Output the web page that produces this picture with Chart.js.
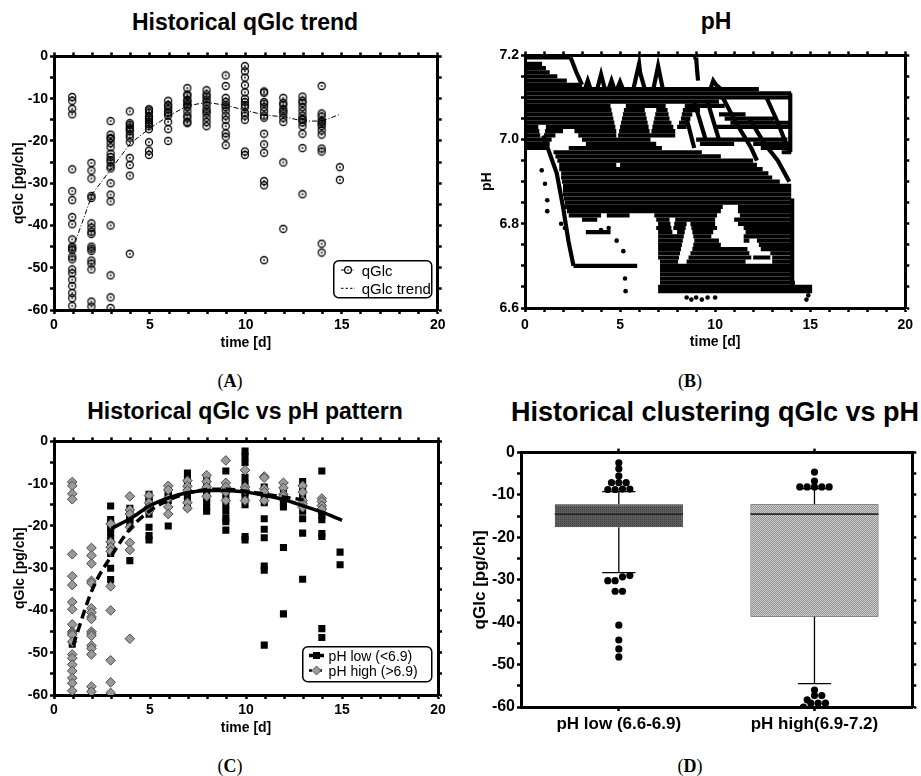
<!DOCTYPE html>
<html>
<head>
<meta charset="utf-8">
<title>qGlc vs pH</title>
<script src="https://cdn.jsdelivr.net/npm/chart.js@4.4.0/dist/chart.umd.min.js"></script>
<style>
  body { margin: 0; background: #fff; }
  #fig { position: relative; width: 921px; height: 776px; background: #fff; overflow: hidden;
         font-family: "Liberation Sans", Arial, sans-serif; color: #000; }
  #fig canvas { position: absolute; }
  .title { position: absolute; font-weight: bold; font-size: 23px; line-height: 1; white-space: nowrap;
           transform: translate(-50%, -50%); }
  .tag { position: absolute; font-family: "Liberation Serif", "Times New Roman", serif; font-size: 18px;
         line-height: 1; transform: translate(-50%, -50%); }
  .tag b { font-weight: bold; }
  svg.legend { position: absolute; overflow: visible; }
</style>
</head>
<body>
<div id="fig">
  <div class="title" style="left:245px;top:22px;">Historical qGlc trend</div>
  <div class="title" style="left:716px;top:21px;">pH</div>
  <div class="title" style="left:245px;top:411px;">Historical qGlc vs pH pattern</div>
  <div class="title" style="left:715px;top:412px;font-size:27px;">Historical clustering qGlc vs pH</div>

  <canvas id="chartA" width="450" height="312" style="left:0;top:46px;"></canvas>
  <canvas id="chartB" width="461" height="313" style="left:460px;top:45px;"></canvas>
  <canvas id="chartC" width="450" height="312" style="left:0;top:431px;"></canvas>
  <canvas id="chartD" width="461" height="306" style="left:460px;top:441px;"></canvas>

  <svg class="legend" width="100" height="39" style="left:333px;top:260px;" font-family="Liberation Sans, Arial, sans-serif" font-size="15">
    <rect x="0.75" y="0.75" width="98" height="37" rx="5" fill="#fff" stroke="#000" stroke-width="1.5"/>
    <line x1="8" y1="10" x2="22" y2="10" stroke="#000" stroke-width="1" stroke-dasharray="3,1.5,1,1.5"/>
    <circle cx="15" cy="10" r="3.4" fill="#fff" stroke="#000" stroke-width="1.3"/>
    <circle cx="15" cy="10" r="0.8" fill="#000"/>
    <text x="28.7" y="10" dominant-baseline="central">qGlc</text>
    <line x1="8" y1="28.3" x2="22" y2="28.3" stroke="#000" stroke-width="1" stroke-dasharray="2.5,2"/>
    <text x="28.7" y="28.3" dominant-baseline="central">qGlc trend</text>
  </svg>

  <svg class="legend" width="131" height="37" style="left:302px;top:646px;" font-family="Liberation Sans, Arial, sans-serif" font-size="14">
    <rect x="0.75" y="0.75" width="129" height="35" rx="5" fill="#fff" stroke="#000" stroke-width="1.5"/>
    <line x1="7" y1="9.5" x2="22" y2="9.5" stroke="#000" stroke-width="3.5"/>
    <rect x="11" y="6" width="7" height="7" fill="#000"/>
    <text x="26.6" y="9.5" dominant-baseline="central">pH low (&lt;6.9)</text>
    <line x1="7" y1="24.5" x2="22" y2="24.5" stroke="#000" stroke-width="2.5" stroke-dasharray="3,2"/>
    <polygon points="14.5,20 19,24.5 14.5,29 10,24.5" fill="#9a9a9a" stroke="#555" stroke-width="1"/>
    <text x="26.6" y="24.5" dominant-baseline="central">pH high (&gt;6.9)</text>
  </svg>

  <div class="tag" style="left:230px;top:381px;">(<b>A</b>)</div>
  <div class="tag" style="left:690px;top:381px;">(<b>B</b>)</div>
  <div class="tag" style="left:230px;top:766px;">(<b>C</b>)</div>
  <div class="tag" style="left:690px;top:766px;">(<b>D</b>)</div>
</div>

<script>
// ── Data ─────────────────────────────────────────────────────────────────────

// sampling day of each qGlc group (d)
const sampleDays = [0.95, 1.95, 2.95, 3.95, 4.95, 5.95, 6.95, 7.95, 8.95, 9.95, 10.95, 11.95, 12.95, 13.95, 14.9];

// qGlc [pg/ch] per sampling day, split by culture pH
const qLowPh = [
    [-48],
    [],
    [-15.3, -18.5, -19.3, -20.5, -21.5, -23, -24.5, -26.5, -30, -32.7],
    [-15.8, -16.8, -17.6, -18.5, -19.2, -28.2],
    [-12.5, -13.3, -14.2, -15, -16, -17.2, -20.3, -22.3, -23.3],
    [-11.8, -12.5, -13.2, -14, -20],
    [-7.5, -9, -10.3, -11.2, -12, -13, -14, -15.5],
    [-9, -10.2, -11.5, -12.5, -13.5, -14.5, -15.5, -16.5],
    [-7, -11.5, -12.8, -15, -16.5, -18.2, -19, -21],
    [-2.3, -3.5, -5, -8.5, -10, -12, -13.3, -15, -22.5, -23.3],
    [-10.8, -13, -14.5, -18.3, -20.8, -22.8, -29.5, -30.5, -48.2],
    [-11.5, -13.5, -14.5, -15.5, -25.1, -40.8],
    [-9.5, -11, -13, -15, -16.5, -18.3, -21.7, -32.6],
    [-7, -15.5, -16.5, -17.5, -18.5, -21.8, -22.5, -44.3, -46.4],
    [-26.2, -29.2]
];
const qHighPh = [
    [-9.6, -10.5, -12.4, -13.7, -26.7, -31.9, -34, -38, -39.7, -43.3, -45, -45.4, -45.8, -47.4, -50.4, -51.3, -52.8, -54.3, -56, -57.2, -59],
    [-25.2, -27, -28.9, -33, -33.5, -39.5, -40.5, -41.5, -42, -45, -45.5, -46, -48.3, -49, -50.4, -58, -59.2],
    [-19.5, -23.8, -25, -26, -34.3, -40, -51.8, -57, -59.5],
    [-13, -16.2, -17.2, -20.3, -24, -25.7, -46.7],
    [-12.8, -14.5, -15.5, -16.5],
    [-10.5, -11.5, -13.5, -15.5, -17.2],
    [-9.3, -10.6, -11.6, -14.5, -15.8],
    [-8, -9.5, -10.8, -13],
    [-4.5, -9.8, -10.8, -12, -14],
    [-6.8, -10.8, -11.5, -14],
    [-8.3, -8.6, -11.2, -12, -14],
    [-9.8, -11, -12.5, -13],
    [-10.5, -12, -14, -14.8, -15.6],
    [-13.5, -14.2, -15.2, -16],
    []
];

// overall trend
const trendDays = [1.1, 2, 3, 4, 5, 6, 7, 8, 9, 10, 11, 12, 13, 14, 14.9];
const trendQ    = [-44, -32.5, -26.5, -20.5, -17, -14, -11.6, -10.9, -11.6, -12.8, -13.9, -14.3, -15.3, -15.3, -13.7];

// trends per pH class
const lowTrendDays  = [3, 4, 5, 6, 7, 8, 9, 10, 11, 12, 13, 14, 15];
const lowTrendQ     = [-20.6, -18.2, -15.2, -13.3, -12.1, -11.6, -11.6, -12, -12.8, -13.8, -15.3, -16.8, -18.7];
const highTrendDays = [1, 2, 3, 4, 5, 6, 7, 8, 9, 10, 11, 12, 13];
const highTrendQ    = [-48.2, -35, -27, -20.5, -16.4, -13.8, -12.2, -11.4, -11.3, -11.8, -12.5, -13.2, -13.8];

// pH log: level held over [start, end] day spans
const phRows = [
    [7.195, [[0, 2.4], [8.85, 9.0]]],
    [7.18, [[0, 0.9]]],
    [7.17, [[0, 1.1]]],
    [7.16, [[0, 1.3]]],
    [7.15, [[0, 1.7]]],
    [7.14, [[0, 2.2]]],
    [7.13, [[0, 3.0]]],
    [7.12, [[0, 12.3]]],
    [7.11, [[0, 14]]],
    [7.10, [[0, 14]]],
    [7.09, [[0, 10.2]]],
    [7.08, [[0, 4.5], [5.3, 7.4], [8.4, 10.5]]],
    [7.07, [[0, 4.55], [5.2, 6.3], [6.9, 7.5], [8.3, 9.2]]],
    [7.06, [[0, 4.6], [5.15, 6.35], [6.85, 7.55], [8.25, 8.8], [10.2, 11.6]]],
    [7.05, [[0, 4.65], [5.1, 6.4], [6.8, 7.6], [8.2, 8.7], [10.5, 13.1]]],
    [7.04, [[0, 4.7], [5.05, 6.45], [6.75, 7.7], [8.1, 8.6], [10.8, 14]]],
    [7.03, [[0, 0.7], [1.1, 4.75], [5.0, 6.5], [6.7, 7.8], [8.0, 8.5], [10.0, 14]]],
    [7.02, [[0, 0.75], [1.05, 2.0], [2.6, 4.8], [4.95, 6.55], [6.65, 7.9]]],
    [7.01, [[0, 0.8], [1.0, 1.6], [2.8, 4.8], [4.9, 7.9]]],
    [7.00, [[0, 1.4], [3.0, 6.6], [9.0, 13.8]]],
    [6.99, [[0, 1.3], [3.2, 6.9], [9.2, 11.0], [12.0, 14]]],
    [6.98, [[0, 1.25], [2.3, 7.2], [12.4, 14]]],
    [6.97, [[0, 0.1], [1.5, 9.3], [13.5, 14]]],
    [6.96, [[0, 0.1], [1.6, 10.3]]],
    [6.95, [[0, 0.1], [1.7, 12.0]]],
    [6.94, [[1.8, 4.8], [5.0, 12.2]]],
    [6.93, [[1.8, 12.5]]],
    [6.92, [[1.9, 12.8]]],
    [6.91, [[1.9, 13.0]]],
    [6.90, [[1.95, 13.4]]],
    [6.89, [[2.0, 14]]],
    [6.88, [[2.0, 14]]],
    [6.87, [[2.0, 14]]],
    [6.86, [[2.05, 14]]],
    [6.85, [[2.1, 14]]],
    [6.84, [[2.1, 10.4], [11.2, 14]]],
    [6.83, [[2.2, 10.3], [11.2, 14]]],
    [6.82, [[2.3, 4.0], [4.3, 5.5], [6.8, 10.1], [11.3, 14]]],
    [6.81, [[3.0, 3.8], [6.9, 7.6], [7.9, 10.0], [11.0, 14]]],
    [6.80, [[7.0, 7.65], [7.85, 8.5], [8.7, 10.0], [11.2, 14]]],
    [6.79, [[6.9, 7.7], [7.8, 8.45], [8.75, 10.1], [11.5, 14]]],
    [6.78, [[3.2, 4.5], [7.0, 7.75], [8.0, 8.4], [8.8, 9.9], [11.6, 14]]],
    [6.77, [[7.0, 8.35], [8.85, 9.8], [11.5, 14]]],
    [6.76, [[7.0, 8.3], [8.9, 10.2], [11.5, 11.8], [12.2, 14]]],
    [6.75, [[7.0, 8.25], [8.85, 10.3], [12.3, 14]]],
    [6.74, [[7.0, 8.2], [8.8, 11.7], [12.4, 14]]],
    [6.73, [[7.0, 8.15], [8.7, 11.8], [12.9, 14]]],
    [6.72, [[7.0, 8.1], [8.6, 11.9], [12.0, 12.9], [13.0, 14]]],
    [6.71, [[7.1, 8.05], [8.5, 11.6], [13.0, 14]]],
    [6.70, [[2.55, 5.9], [7.1, 14]]],
    [6.69, [[7.1, 14]]],
    [6.68, [[7.1, 14]]],
    [6.67, [[7.1, 14]]],
    [6.66, [[7.1, 14.2]]],
    [6.65, [[7.0, 15.1]]],
    [6.64, [[7.0, 15.1]]]
];

// pH ramps between levels [day, pH]
const phRamps = [
    [[0.96, 7.01], [1.67, 6.92], [2.0, 6.84], [2.28, 6.76], [2.55, 6.70]],
    [[2.4, 7.195], [2.7, 7.16], [3.0, 7.13]],
    [[3.15, 7.12], [3.3, 7.14], [3.45, 7.12]],
    [[3.8, 7.12], [4.0, 7.155], [4.2, 7.12]],
    [[4.4, 7.12], [4.55, 7.14], [4.7, 7.12]],
    [[4.85, 7.12], [5.0, 7.137], [5.15, 7.12]],
    [[5.7, 7.12], [6.0, 7.18], [6.05, 7.16], [6.3, 7.12]],
    [[6.75, 7.12], [7.0, 7.175], [7.25, 7.12]],
    [[9.0, 7.195], [9.05, 7.165], [9.1, 7.14]],
    [[9.75, 7.12], [9.9, 7.14], [10.05, 7.13], [10.3, 7.12]],
    [[8.5, 7.05], [8.9, 6.98]],
    [[8.9, 7.09], [9.5, 7.0]],
    [[9.6, 7.09], [10.2, 7.0]],
    [[10.4, 7.1], [11.1, 7.04], [11.9, 6.98], [12.2, 6.95]],
    [[11.8, 7.05], [12.6, 6.99], [13.3, 6.95], [13.9, 6.90]],
    [[12.7, 7.1], [13.3, 7.04], [13.9, 6.97]],
    [[13.95, 7.11], [13.95, 6.97]],
    [[14.05, 6.86], [14.05, 6.65]]
];

// isolated pH readings [day, pH]
const phDots = [
    [0.88, 6.927], [1.05, 6.895], [1.17, 6.856], [1.17, 6.83], [1.9, 6.80], [2.1, 6.79],
    [4.0, 6.785], [4.4, 6.79], [4.82, 6.76], [5.17, 6.735], [5.26, 6.67], [5.29, 6.64],
    [8.5, 6.625], [8.75, 6.62], [9.0, 6.625], [9.3, 6.62], [9.6, 6.625], [10.0, 6.625],
    [14.8, 6.62], [14.9, 6.63]
];

// box plot by pH class
const groupNames  = ['pH low (6.6-6.9)', 'pH high(6.9-7.2)'];
const boxMin      = [-28.3, -54.5];
const boxQ1       = [-17.6, -38.7];
const boxMedian   = [-14.5, -14.5];
const boxQ3       = [-12.2, -12.2];
const boxMax      = [-9.2, -8.5];
const outliersLow  = [-2.4, -3.8, -5.5, -7.1, -7.1, -7.1, -8.6, -8.7, -8.7, -8.6,
                      -29, -30.2, -30.2, -29.3, -32.7, -32.7, -40.7, -44.2, -46.3, -48.2];
const outliersHigh = [-4.6, -6.7, -8.1, -8.1, -8.1, -8.1, -8.1,
                      -56, -57.3, -57.3, -58.3, -59.1, -59.1, -59.1, -60];

// ── Helpers ──────────────────────────────────────────────────────────────────

const FONT = '"Liberation Sans", Arial, sans-serif';
const BOX_W = 0.655;      // box width in category units
const CAP_HALF = 0.085;   // whisker cap half width
const DOT_GAP = 0.0375;   // horizontal spacing of tied outliers

const fmtX5  = v => (v % 5 === 0 ? String(v) : '');
const fmtY10 = v => (v % 10 === 0 ? String(v) : '');
const fmtPh  = v => { const k = Math.round(v * 100); return k % 20 === 0 ? (k / 100).toFixed(1) : ''; };

function axis(pos, min, max, step, o = {}) {
    const horiz = pos === 'top' || pos === 'bottom';
    const ticks = {
        display: !!o.fmt, stepSize: step, autoSkip: false, maxRotation: 0, minRotation: 0,
        padding: o.pad ?? 3, color: '#000',
        font: { family: FONT, size: o.fontSize || 14, weight: 'bold' }
    };
    if (o.fmt) ticks.callback = o.fmt;
    const cfg = {
        type: 'linear', position: pos, min, max, offset: false,
        afterFit: s => { if (horiz) s.height = o.size; else s.width = o.size; },
        border: { display: true, width: 3, color: '#000' },
        grid: { drawOnChartArea: false, drawTicks: true, tickLength: 4, tickWidth: 2.5, tickColor: '#000', offset: false },
        ticks,
        title: {
            display: !!o.title, text: o.title || '', color: '#000',
            font: { family: FONT, size: o.titleSize || 14, weight: 'bold', lineHeight: 1 },
            padding: o.titlePad || 0
        }
    };
    if (o.fixedTicks) cfg.afterBuildTicks = s => { s.ticks = o.fixedTicks.map(v => ({ value: v })); };
    return cfg;
}

function makeChart(id, type, datasets, scales) {
    return new Chart(document.getElementById(id), {
        type,
        data: { datasets },
        options: {
            responsive: false, animation: false, events: [],
            layout: { padding: 0 },
            plugins: { legend: { display: false }, tooltip: { enabled: false } },
            scales
        }
    });
}

const xy = (xs, ys) => xs.map((x, i) => ({ x, y: ys[i] }));

function byDay(groups) {
    const pts = [];
    groups.forEach((vals, i) => vals.forEach(v => pts.push({ x: sampleDays[i], y: v })));
    return pts;
}

// open circle with a centre dot
function ringMarker() {
    const c = document.createElement('canvas');
    c.width = c.height = 10;
    const g = c.getContext('2d');
    g.strokeStyle = '#000';
    g.lineWidth = 1.3;
    g.beginPath(); g.arc(5, 5, 3.5, 0, Math.PI * 2); g.stroke();
    g.fillStyle = '#000';
    g.beginPath(); g.arc(5, 5, 0.9, 0, Math.PI * 2); g.fill();
    return c;
}

function dotFill(base, dot, checker) {
    const c = document.createElement('canvas');
    c.width = c.height = 2;
    const g = c.getContext('2d');
    g.fillStyle = base; g.fillRect(0, 0, 2, 2);
    g.fillStyle = dot; g.fillRect(0, 0, 1, 1);
    if (checker) g.fillRect(1, 1, 1, 1);
    return g.createPattern(c, 'repeat');
}

// spread tied outliers side by side around the category centre
function swarm(center, values) {
    const s = [...values].sort((a, b) => a - b);
    const pts = [];
    let i = 0;
    while (i < s.length) {
        let j = i;
        while (j + 1 < s.length && s[j + 1] - s[i] <= 1.3) j++;
        const n = j - i + 1;
        for (let k = 0; k < n; k++) pts.push({ x: center + (k - (n - 1) / 2) * DOT_GAP, y: s[i + k] });
        i = j + 1;
    }
    return pts;
}

const gap = x => ({ x, y: null });

// ── A. Historical qGlc trend ─────────────────────────────────────────────────

const allQ = sampleDays.map((_, i) => qLowPh[i].concat(qHighPh[i]));

makeChart('chartA', 'scatter', [
    {
        type: 'line', data: xy(trendDays, trendQ),
        borderColor: '#000', borderWidth: 1, borderDash: [5, 2, 1, 2],
        pointRadius: 0, xAxisID: 'x', yAxisID: 'y'
    },
    {
        data: byDay(allQ), pointStyle: ringMarker(), pointRadius: 5,
        xAxisID: 'x', yAxisID: 'y'
    }
], {
    x:  axis('bottom', 0, 20, 1, { size: 48, fmt: fmtX5, pad: 3, title: 'time [d]', titlePad: { top: 0, bottom: 8 } }),
    x2: axis('top', 0, 20, 1, { size: 10 }),
    y:  axis('left', -60, 0, 5, { size: 54, fmt: fmtY10, pad: 2, title: 'qGlc [pg/ch]', titlePad: { top: 12.5, bottom: 0 } }),
    y2: axis('right', -60, 0, 5, { size: 12.3 })
});

// ── B. pH ────────────────────────────────────────────────────────────────────

// one line per held level span and per ramp
const phTraces = [];
phRows.forEach(([ph, spans]) => spans.forEach(([t0, t1]) => {
    phTraces.push([{ x: t0, y: ph }, { x: t1, y: ph }]);
}));
phRamps.forEach(path => phTraces.push(path.map(([t, ph]) => ({ x: t, y: ph }))));

makeChart('chartB', 'scatter', phTraces.map(pts => ({
    type: 'line', data: pts,
    borderColor: '#000', borderWidth: 4.2, pointRadius: 0,
    xAxisID: 'x', yAxisID: 'y'
})).concat([{
    data: phDots.map(([x, y]) => ({ x, y })),
    pointRadius: 2.3, backgroundColor: '#000', borderWidth: 0,
    xAxisID: 'x', yAxisID: 'y'
}]), {
    x:  axis('bottom', 0, 20, 1, { size: 50, fmt: fmtX5, pad: 5, title: 'time [d]', titlePad: { top: 0, bottom: 8.7 } }),
    x2: axis('top', 0, 20, 1, { size: 10 }),
    y:  axis('left', 6.6, 7.2, 0.05, { size: 65, fmt: fmtPh, pad: 2, title: 'pH', titlePad: { top: 20.5, bottom: 0 } }),
    y2: axis('right', 6.6, 7.2, 0.05, { size: 15.7 })
});

// ── C. qGlc vs pH pattern ────────────────────────────────────────────────────

makeChart('chartC', 'scatter', [
    {
        type: 'line', data: xy(lowTrendDays, lowTrendQ),
        borderColor: '#000', borderWidth: 3.5, pointRadius: 0,
        cubicInterpolationMode: 'monotone', xAxisID: 'x', yAxisID: 'y'
    },
    {
        type: 'line', data: xy(highTrendDays, highTrendQ),
        borderColor: '#000', borderWidth: 3.5, borderDash: [9, 5], pointRadius: 0,
        cubicInterpolationMode: 'monotone', xAxisID: 'x', yAxisID: 'y'
    },
    {
        data: byDay(qHighPh), pointStyle: 'rectRot', pointRadius: 4.8,
        backgroundColor: '#9a9a9a', borderColor: '#4a4a4a', borderWidth: 1,
        xAxisID: 'x', yAxisID: 'y'
    },
    {
        data: byDay(qLowPh), pointStyle: 'rect', pointRadius: 5,
        backgroundColor: '#000', borderWidth: 0,
        xAxisID: 'x', yAxisID: 'y'
    }
], {
    x:  axis('bottom', 0, 20, 1, { size: 48, fmt: fmtX5, pad: 3, title: 'time [d]', titlePad: { top: 0, bottom: 8 } }),
    x2: axis('top', 0, 20, 1, { size: 10 }),
    y:  axis('left', -60, 0, 5, { size: 54, fmt: fmtY10, pad: 2, title: 'qGlc [pg/ch]', titlePad: { top: 13, bottom: 0 } }),
    y2: axis('right', -60, 0, 5, { size: 12 })
});

// ── D. Clustering qGlc vs pH (box plot) ──────────────────────────────────────

const centers = groupNames.map((_, i) => i + 0.5);

const medianLines = [];
const whiskers = [];
centers.forEach((c, i) => {
    medianLines.push({ x: c - BOX_W / 2, y: boxMedian[i] }, { x: c + BOX_W / 2, y: boxMedian[i] }, gap(c));
    whiskers.push(
        { x: c, y: boxQ3[i] }, { x: c, y: boxMax[i] }, gap(c),
        { x: c - CAP_HALF, y: boxMax[i] }, { x: c + CAP_HALF, y: boxMax[i] }, gap(c),
        { x: c, y: boxQ1[i] }, { x: c, y: boxMin[i] }, gap(c),
        { x: c - CAP_HALF, y: boxMin[i] }, { x: c + CAP_HALF, y: boxMin[i] }, gap(c)
    );
});

const outlierPts = swarm(centers[0], outliersLow).concat(swarm(centers[1], outliersHigh));

makeChart('chartD', 'bar', [
    {
        type: 'bar',
        data: centers.map((c, i) => ({ x: c, y: [boxQ1[i], boxQ3[i]] })),
        backgroundColor: [dotFill('#5e5e5e', '#3e3e3e', false), dotFill('#cfcfcf', '#909090', true)],
        borderColor: '#2a2a2a', borderWidth: 1, borderSkipped: false,
        barPercentage: BOX_W, categoryPercentage: 1,
        xAxisID: 'x', yAxisID: 'y', order: 3
    },
    {
        type: 'line', data: medianLines, spanGaps: false,
        borderColor: '#2a2a2a', borderWidth: 1.6, pointRadius: 0,
        xAxisID: 'x', yAxisID: 'y', order: 2
    },
    {
        type: 'line', data: whiskers, spanGaps: false,
        borderColor: '#000', borderWidth: 1.3, pointRadius: 0,
        xAxisID: 'x', yAxisID: 'y', order: 2
    },
    {
        type: 'scatter', data: outlierPts,
        pointRadius: 3.6, backgroundColor: '#000', borderWidth: 0,
        xAxisID: 'x', yAxisID: 'y', order: 1
    }
], {
    x:  axis('bottom', 0, 2, 0.5, {
        size: 40, pad: 3, fontSize: 17, fixedTicks: centers,
        fmt: (v, i) => groupNames[i]
    }),
    x2: axis('top', 0, 2, 0.5, { size: 10.7, fixedTicks: centers }),
    y:  axis('left', -60, 0, 5, { size: 61, fmt: fmtY10, pad: 2, fontSize: 16, title: 'qGlc [pg/ch]', titleSize: 17, titlePad: { top: 12.2, bottom: 0 } }),
    y2: axis('right', -60, 0, 5, { size: 8.7 })
});
</script>
</body>
</html>
